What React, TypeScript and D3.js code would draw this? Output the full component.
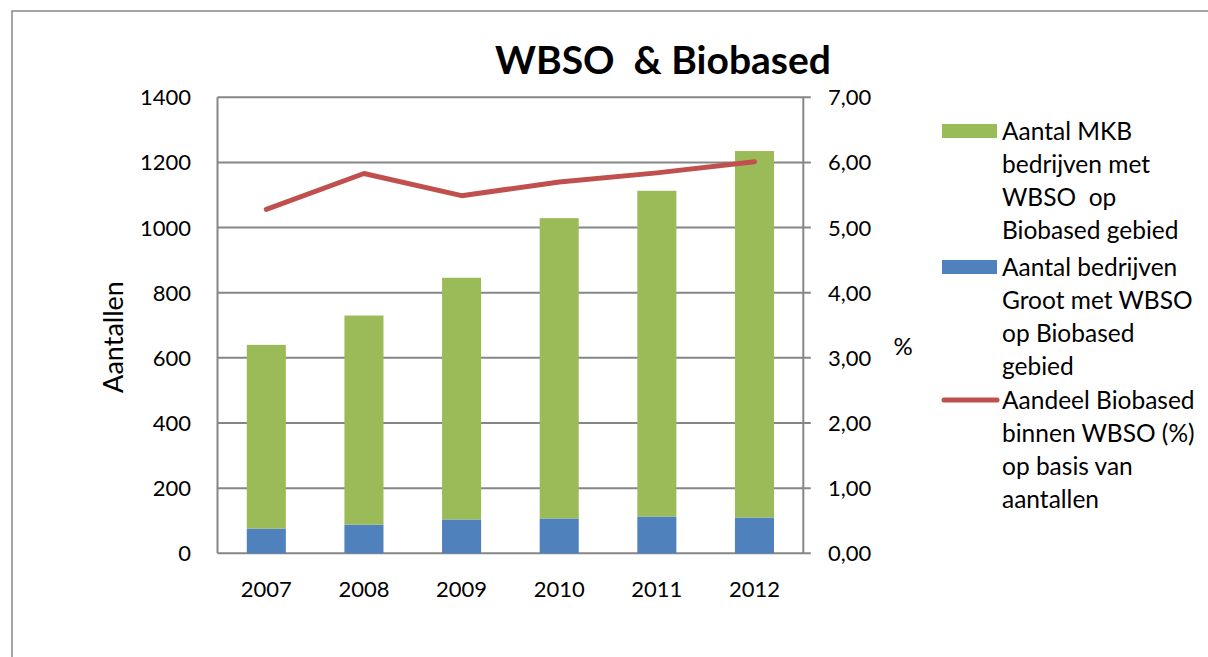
import React from "react";
import * as d3 from "d3";

const years = ["2007", "2008", "2009", "2010", "2011", "2012"];
const groot = [76, 88, 104, 107, 113, 110];
const mkb = [564, 642, 742, 922, 1000, 1125];
const aandeel = [5.28, 5.83, 5.49, 5.7, 5.84, 6.01];
const leftTicks = [0, 200, 400, 600, 800, 1000, 1200, 1400];
const rightTicks = [0, 1, 2, 3, 4, 5, 6, 7];
const legendItems = [
  { type: "rect", color: "#9BBB59", lines: ["Aantal MKB", "bedrijven met", "WBSO  op", "Biobased gebied"] },
  { type: "rect", color: "#4F81BD", lines: ["Aantal bedrijven", "Groot met WBSO", "op Biobased", "gebied"] },
  { type: "line", color: "#C0504D", lines: ["Aandeel Biobased", "binnen WBSO (%)", "op basis van", "aantallen"] },
];

const W = 1208, H = 657;
const L = 217.5, R = 803.3, T = 97.3, B = 553.3;
const font = "Lato, 'Open Sans', sans-serif";

export default function App() {
  const x = d3.scaleBand<string>().domain(years).range([L, R]).paddingInner(0.6).paddingOuter(0.3);
  const y = d3.scaleLinear().domain([0, 1400]).range([B, T]);
  const y2 = d3.scaleLinear().domain([0, 7]).range([B, T]);
  const line = d3.line<number>().x((_, i) => x(years[i])! + x.bandwidth() / 2).y((d) => y2(d));
  const fmt = (v: number) => v.toFixed(2).replace(".", ",");
  const lh = 33;
  return (
    <svg width={W} height={H} style={{ position: "absolute", left: 0, top: 0, background: "#fff" }} fontFamily={font}>
      <rect x={12} y={11} width={W + 20} height={H + 20} fill="#fff" stroke="#868686" strokeWidth={1.5} />
      <text x={663} y={74} textAnchor="middle" fontSize={39} fontWeight="bold" fill="#000" style={{ whiteSpace: "pre" }}>
        WBSO  &amp; Biobased
      </text>
      {leftTicks.map((t) => (
        <g key={t}>
          <line x1={L} x2={R + 7.5} y1={y(t)} y2={y(t)} stroke="#868686" strokeWidth={2} />
          <text x={191} y={y(t)} dy="0.36em" textAnchor="end" fontSize={22}>{t}</text>
        </g>
      ))}
      {rightTicks.map((t) => (
        <text key={t} x={828} y={y2(t)} dy="0.36em" textAnchor="start" fontSize={22}>{fmt(t)}</text>
      ))}
      <line x1={L} x2={L} y1={T} y2={B} stroke="#868686" strokeWidth={2} />
      <line x1={R} x2={R} y1={T} y2={B} stroke="#868686" strokeWidth={2} />
      {years.map((yr, i) => (
        <g key={yr}>
          <rect x={x(yr)} y={y(groot[i])} width={x.bandwidth()} height={B - y(groot[i])} fill="#4F81BD" />
          <rect x={x(yr)} y={y(groot[i] + mkb[i])} width={x.bandwidth()} height={y(groot[i]) - y(groot[i] + mkb[i])} fill="#9BBB59" />
          <text x={x(yr)! + x.bandwidth() / 2} y={597} textAnchor="middle" fontSize={22}>{yr}</text>
        </g>
      ))}
      <path d={line(aandeel)!} fill="none" stroke="#C0504D" strokeWidth={5} strokeLinecap="round" strokeLinejoin="round" />
      <text transform={`translate(123,337) rotate(-90)`} textAnchor="middle" fontSize={27}>Aantallen</text>
      <text x={903} y={346} dy="0.36em" textAnchor="middle" fontSize={24}>%</text>
      {legendItems.map((it, k) => {
        const top = [131, 267, 400][k];
        return (
          <g key={k}>
            {it.type === "rect" ? (
              <rect x={942} y={top - 7} width={55} height={14} fill={it.color} />
            ) : (
              <line x1={944} x2={997} y1={top} y2={top} stroke={it.color} strokeWidth={5} strokeLinecap="round" />
            )}
            {it.lines.map((s, j) => (
              <text key={j} x={1002} y={top + j * lh} dy="0.36em" fontSize={24.5} style={{ whiteSpace: "pre" }}>{s}</text>
            ))}
          </g>
        );
      })}
    </svg>
  );
}
